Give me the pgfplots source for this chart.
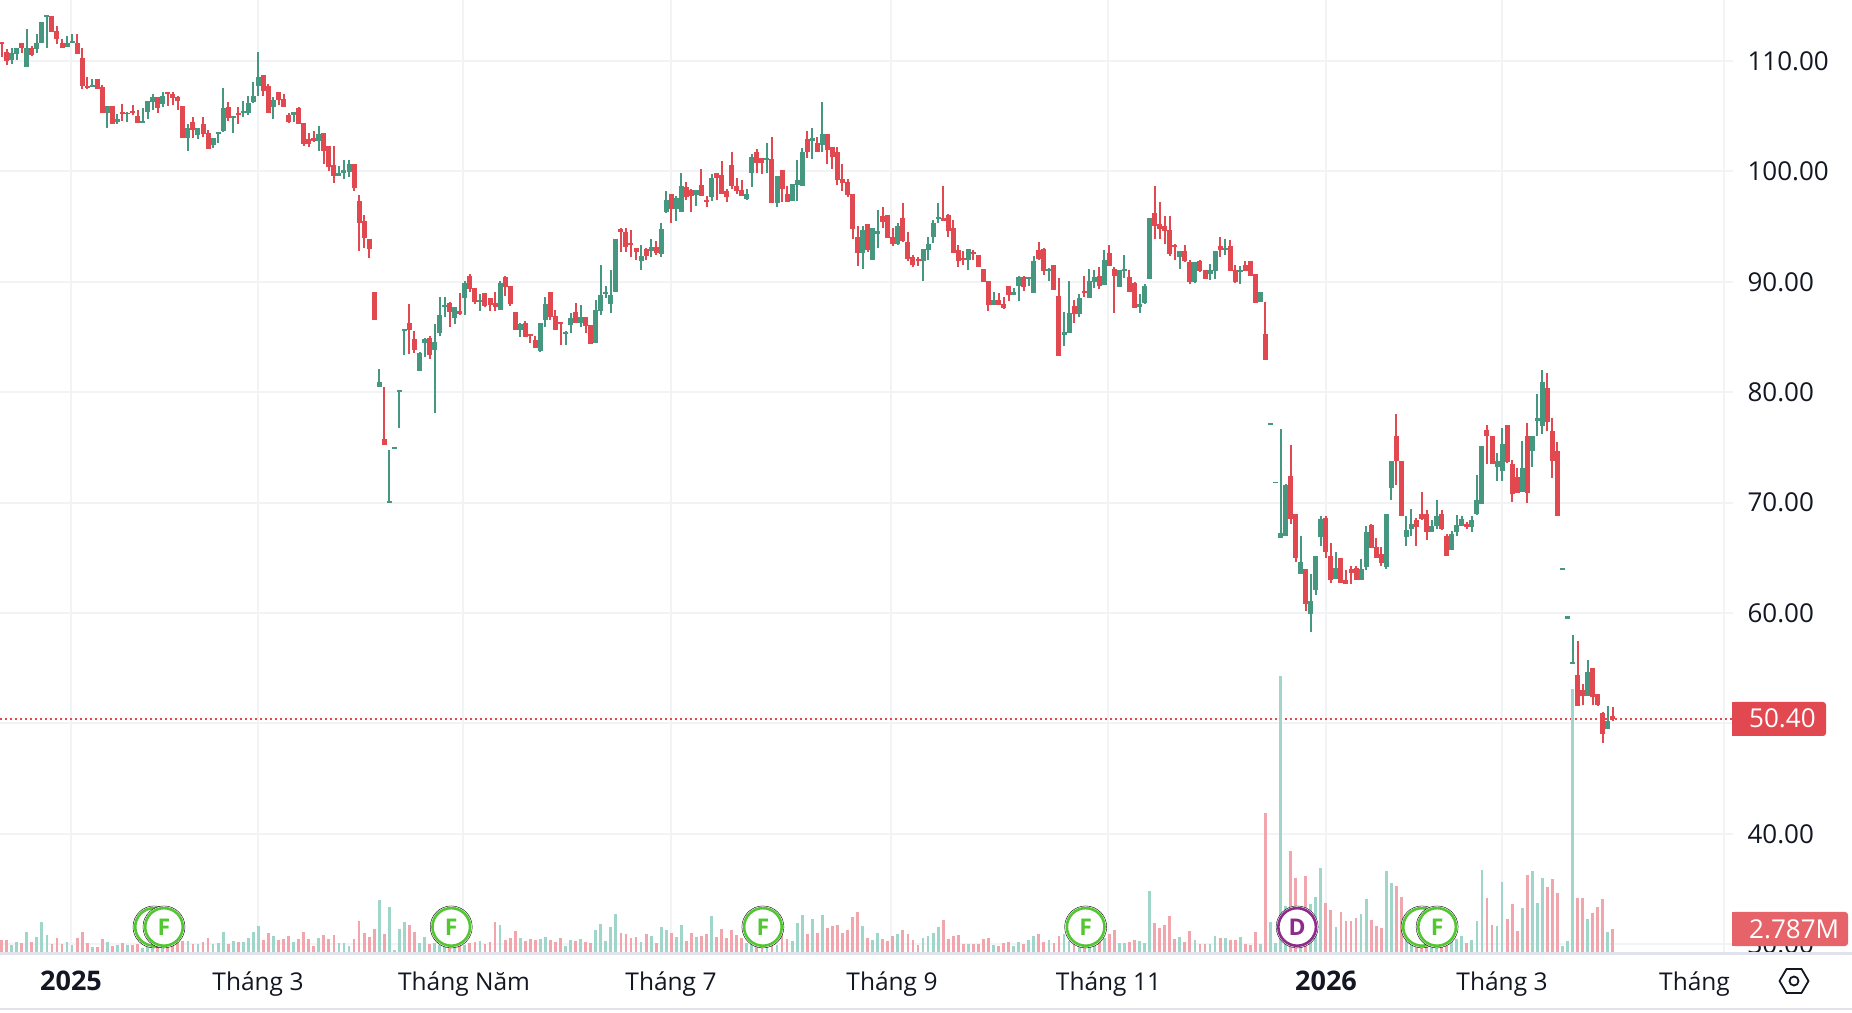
\documentclass[border=0pt]{standalone}
\usepackage{fontspec}
\setmainfont{Open Sans}
\usepackage{pgfplots}
\usepackage{pgfplotstable}
\pgfplotsset{compat=1.18}
\definecolor{upc}{HTML}{45977F}
\definecolor{dnc}{HTML}{E1484F}
\definecolor{upv}{HTML}{A0D5CA}
\definecolor{dnv}{HTML}{F0A6AC}
\definecolor{gridc}{HTML}{F2F3F5}
\definecolor{sepc}{HTML}{E0E3EB}
\definecolor{txt}{HTML}{131722}
\definecolor{fgreen}{HTML}{52C732}
\definecolor{dpurple}{HTML}{8E2A8B}
\pgfplotstableread{
i o h l c v
0 111.7 111.7 110.4 111.5 1.44
1 110.8 111.05 109.6 110.0 1.44
2 110.1 111.15 109.7 110.7 0.84
3 110.6 111.15 110.1 111.15 1.2
4 111.6 111.6 110.7 111.2 1.08
5 109.5 112.9 109.5 111.2 2.4
6 111.15 111.4 110.45 110.55 1.2
7 111.1 112.45 110.75 111.6 1.8
8 111.65 113.5 111.6 113.5 3.6
9 114.0 114.2 111.2 114.15 2.04
10 114.05 114.05 112.6 112.65 0.96
11 112.7 113.15 111.5 112.0 1.68
12 111.6 112.0 111.2 111.2 0.96
13 111.3 112.3 111.25 111.65 1.2
14 111.65 112.45 111.6 111.8 0.84
15 111.6 112.45 110.6 110.6 1.68
16 110.25 111.2 107.45 107.7 2.4
17 107.7 108.55 107.45 107.6 1.08
18 107.65 108.4 107.65 107.8 0.6
19 108.35 108.35 107.5 107.5 0.6
20 107.65 107.8 105.3 105.3 1.56
21 105.3 105.9 103.95 105.9 1.2
22 105.9 105.9 104.3 104.3 0.72
23 104.45 105.2 104.3 104.75 0.84
24 105.4 106.1 104.55 105.2 1.08
25 105.2 105.4 104.45 105.3 0.84
26 105.45 106.0 105.15 105.3 0.84
27 105.0 105.55 104.4 104.4 0.96
28 104.4 105.75 104.4 104.55 0.48
29 105.4 106.4 104.75 106.4 1.0
30 106.3 107.0 105.55 106.75 1.0
31 106.75 106.75 105.3 105.75 1.2
32 106.1 107.2 105.85 106.8 1.0
33 107.2 107.2 105.95 107.0 1.0
34 107.0 107.2 106.0 106.65 1.1
35 106.75 106.8 105.55 106.4 1.3
36 105.9 105.9 103.0 103.0 1.32
37 103.0 104.3 101.85 103.95 1.32
38 104.5 104.9 103.0 103.75 0.96
39 103.3 103.95 102.95 103.95 0.96
40 104.3 104.9 103.1 103.4 1.2
41 103.5 103.75 102.0 102.0 1.68
42 102.4 103.0 102.1 103.0 0.96
43 103.4 103.55 102.55 103.55 1.08
44 103.65 107.55 103.55 105.75 2.4
45 105.85 106.3 104.55 104.85 0.96
46 104.85 105.0 103.5 105.0 1.32
47 105.3 105.85 104.3 105.1 1.2
48 105.3 106.4 104.9 105.45 1.2
49 105.3 106.8 105.1 106.2 1.68
50 106.3 108.1 106.2 106.8 2.4
51 107.7 110.8 106.8 108.55 3.12
52 108.7 108.7 106.8 107.3 1.44
53 107.7 107.9 105.3 105.3 2.28
54 105.85 106.75 104.75 106.45 1.92
55 107.2 107.2 106.0 106.45 1.44
56 106.55 107.0 105.85 105.85 1.56
57 105.1 105.3 104.4 104.5 1.92
58 105.1 105.4 104.5 105.4 1.2
59 105.75 105.85 104.3 104.3 1.56
60 104.4 104.4 102.3 102.5 2.4
61 102.95 103.5 102.2 102.5 1.56
62 103.0 103.65 102.65 102.75 0.72
63 102.75 104.1 101.85 103.4 1.68
64 103.5 103.5 100.7 101.85 2.04
65 102.3 102.3 100.0 100.4 1.56
66 100.6 102.3 98.95 99.6 2.04
67 99.6 100.5 99.6 99.85 1.08
68 99.85 101.0 99.3 100.1 1.08
69 99.95 101.0 99.5 100.65 0.72
70 100.65 100.65 98.25 98.5 1.56
71 97.3 97.9 92.8 95.35 3.72
72 95.5 96.05 93.1 93.95 2.28
73 93.9 93.9 92.15 92.95 1.8
74 89.1 89.1 86.55 86.55 2.76
75 80.5 82.1 80.5 80.95 6.24
76 75.8 80.5 75.25 75.25 2.16
77 70.0 74.8 70.0 70.15 5.4
78 74.9 75.05 74.9 75.05 0.24
79 80.05 80.2 76.8 80.2 2.76
80 85.55 85.75 83.4 85.75 3.6
81 86.3 88.0 83.5 85.65 3.24
82 84.85 85.55 83.55 83.85 2.4
83 81.95 83.65 81.95 83.55 1.08
84 84.45 84.9 83.2 84.85 1.8
85 84.9 85.1 83.05 83.4 0.96
86 83.85 86.2 78.15 84.55 1.08
87 85.4 88.6 85.1 87.0 0.9
88 87.7 88.6 86.8 87.9 1.0
89 88.1 88.2 85.9 87.3 1.1
90 86.7 87.7 86.2 87.7 1.1
91 87.35 89.0 87.0 87.1 1.1
92 88.55 90.1 87.0 89.9 0.84
93 90.55 90.7 89.1 89.35 1.08
94 89.45 89.45 88.0 88.2 1.2
95 88.2 88.9 87.35 88.35 1.32
96 89.0 89.0 87.7 87.8 0.96
97 88.55 88.55 87.35 87.9 1.2
98 88.1 89.1 87.35 87.7 3.6
99 87.45 90.1 87.45 89.9 3.24
100 90.45 90.55 88.7 89.55 1.44
101 89.65 89.65 87.8 88.0 1.68
102 87.3 87.3 85.65 85.65 2.52
103 85.65 86.3 85.0 86.2 1.68
104 86.3 86.45 85.0 85.0 1.32
105 85.3 85.3 84.45 85.1 1.56
106 84.75 85.1 84.0 84.0 1.44
107 83.75 86.3 83.65 86.3 1.56
108 86.55 88.6 85.9 88.0 1.8
109 89.1 89.1 86.55 86.8 1.44
110 86.9 87.45 85.65 85.65 1.2
111 86.4 86.4 84.3 86.2 1.68
112 85.3 85.55 84.3 85.45 0.72
113 86.1 87.2 85.4 86.7 1.44
114 87.3 88.1 86.3 86.3 1.32
115 86.3 87.9 85.9 86.8 1.56
116 86.8 86.8 85.4 86.0 1.2
117 86.1 86.1 84.4 84.4 1.08
118 84.45 88.35 84.45 87.45 2.64
119 87.35 91.55 87.0 88.8 3.36
120 88.9 89.65 88.55 89.1 1.32
121 88.0 91.1 87.2 88.8 3.0
122 89.1 93.9 89.1 93.9 4.56
123 94.75 94.85 92.7 94.5 2.28
124 94.5 94.85 92.7 93.2 2.16
125 93.5 94.65 92.25 93.3 1.68
126 93.1 93.1 91.95 92.7 1.8
127 91.85 93.3 91.05 92.3 1.2
128 92.95 93.05 91.95 92.3 2.16
129 92.8 93.85 92.25 93.15 1.92
130 93.2 93.7 92.4 92.6 1.08
131 92.5 95.3 92.25 94.75 3.0
132 96.3 98.2 96.2 97.4 2.64
133 97.95 97.95 95.3 96.6 2.28
134 96.6 97.75 95.5 97.55 1.8
135 96.3 99.85 96.3 98.65 3.24
136 98.55 99.0 97.4 97.65 1.32
137 98.3 98.45 96.3 97.75 2.28
138 97.85 98.3 96.85 98.3 1.8
139 98.75 100.2 97.75 97.75 1.92
140 97.4 97.75 96.75 97.2 2.16
141 97.65 99.75 97.3 99.4 4.32
142 99.85 99.85 97.4 99.45 1.8
143 99.65 100.9 98.0 98.0 2.76
144 98.2 98.45 97.2 97.65 1.68
145 100.55 101.75 98.45 98.65 2.64
146 98.65 99.45 98.0 98.2 2.04
147 98.3 99.2 97.75 97.75 1.68
148 97.5 98.45 97.4 98.0 1.08
149 99.85 101.55 98.55 101.3 1.4
150 101.75 102.0 99.9 100.75 1.2
151 101.2 101.2 99.75 100.75 1.2
152 101.0 102.55 99.9 101.2 1.2
153 101.1 103.1 97.1 97.1 1.2
154 97.1 99.55 96.75 99.55 0.9
155 100.1 100.1 97.2 98.45 2.4
156 98.0 98.65 97.2 97.2 1.56
157 97.3 98.85 97.3 98.85 1.32
158 98.75 101.0 97.3 99.2 3.48
159 98.65 102.1 98.65 101.8 4.44
160 102.9 103.7 101.2 101.75 2.16
161 102.8 103.9 101.1 103.0 3.96
162 102.55 103.1 101.75 101.75 2.28
163 102.35 106.25 101.8 103.35 4.44
164 103.35 103.35 100.65 101.9 2.88
165 102.2 102.2 100.2 101.35 3.12
166 101.75 102.2 98.75 99.2 3.24
167 99.3 100.65 98.2 98.95 2.28
168 99.0 99.3 97.65 97.85 2.64
169 97.95 98.0 93.85 94.75 4.2
170 94.1 95.1 91.4 92.6 4.8
171 92.6 95.1 91.15 94.65 3.12
172 95.2 95.2 92.7 92.85 1.68
173 91.95 94.85 91.95 94.85 1.44
174 94.35 96.5 93.05 94.6 2.28
175 95.95 96.75 94.85 95.4 1.56
176 96.05 96.05 93.95 93.95 1.32
177 94.1 94.85 93.2 93.4 1.92
178 93.4 95.3 93.3 95.1 2.16
179 95.75 97.1 93.6 93.7 2.64
180 93.6 94.5 91.85 92.05 2.16
181 92.25 92.4 91.3 91.5 1.44
182 92.05 92.25 91.4 91.85 0.84
183 91.85 92.95 90.05 92.95 1.68
184 92.85 94.05 91.95 93.4 1.92
185 94.05 95.6 93.5 95.3 2.28
186 95.65 97.1 95.3 95.85 3.0
187 95.75 98.65 95.5 95.5 3.84
188 96.05 96.1 94.05 94.6 1.56
189 94.85 95.6 92.6 92.6 1.92
190 92.85 93.3 91.3 91.85 2.04
191 92.15 92.75 91.5 91.95 0.96
192 91.95 92.95 91.05 92.95 0.96
193 92.7 92.85 91.95 92.5 0.96
194 92.4 92.4 91.3 91.3 0.96
195 91.15 91.2 89.95 89.95 1.56
196 90.05 90.05 87.35 87.9 1.68
197 87.9 89.05 87.9 88.35 0.84
198 88.35 88.95 87.9 87.9 0.72
199 87.95 88.6 87.55 87.6 1.08
200 89.6 89.6 88.25 88.8 1.2
201 88.8 89.4 88.8 89.05 0.72
202 89.6 90.5 88.25 90.4 1.2
203 90.4 90.5 89.15 89.5 0.96
204 90.25 90.4 89.6 90.4 1.44
205 88.95 92.3 88.95 91.85 1.92
206 92.85 93.6 91.95 92.05 2.16
207 92.95 93.05 90.6 90.95 1.2
208 90.95 91.25 90.05 91.15 1.44
209 91.5 91.5 89.25 89.25 1.08
210 88.7 90.35 83.3 83.3 1.92
211 85.15 87.25 84.2 85.45 2.16
212 85.35 90.05 85.35 87.15 1.3
213 87.8 88.35 86.25 87.1 1.2
214 87.1 88.9 86.8 88.5 1.2
215 89.15 90.5 88.6 88.95 1.2
216 88.5 91.15 88.5 90.05 1.2
217 89.95 91.05 89.4 90.4 1.0
218 90.5 91.3 89.35 89.6 1.2
219 89.7 92.85 89.7 91.95 1.68
220 92.6 93.3 91.4 91.4 2.16
221 91.15 91.3 87.15 90.5 2.64
222 89.5 91.05 89.5 91.05 1.08
223 90.95 92.4 90.35 91.15 1.08
224 90.4 91.05 89.05 89.05 1.2
225 89.85 89.95 87.6 87.6 1.44
226 87.7 88.9 87.15 87.95 1.32
227 88.05 89.8 87.95 89.6 1.08
228 90.25 95.75 90.25 95.75 7.32
229 96.2 98.65 93.85 95.1 3.48
230 95.2 97.2 93.85 94.75 2.88
231 95.05 96.0 93.4 94.6 3.24
232 94.65 96.0 92.3 92.5 4.32
233 93.3 93.4 91.95 93.15 1.56
234 92.25 92.75 91.15 92.75 1.8
235 92.75 93.3 91.8 91.85 1.2
236 91.8 91.95 89.8 89.95 2.52
237 89.95 91.8 89.9 91.8 1.44
238 91.85 91.95 90.85 90.95 0.96
239 91.05 91.05 90.25 90.25 0.96
240 90.7 91.6 90.15 91.05 0.96
241 90.95 92.75 90.25 92.75 1.92
242 93.25 94.1 92.25 92.9 1.68
243 92.9 93.9 92.45 93.1 1.68
244 93.25 93.8 91.0 91.0 1.44
245 91.1 91.5 89.9 90.0 1.44
246 90.9 91.4 89.8 91.1 1.8
247 91.5 91.9 91.0 91.0 0.96
248 91.9 91.9 90.5 90.5 0.84
249 90.7 90.7 88.1 88.1 2.4
250 88.2 89.1 88.2 89.1 0.96
251 85.3 88.2 82.9 82.9 16.68
252 77.09 77.24 77.09 77.24 3.6
253 71.75 71.9 71.75 71.9 1.08
254 66.75 76.7 66.75 67.25 33.12
255 67.0 71.7 67.0 71.55 5.52
256 72.45 75.25 68.1 68.55 12.12
257 69.0 69.0 64.6 64.95 8.88
258 63.5 67.0 63.5 64.65 4.8
259 64.0 64.0 60.15 60.85 9.12
260 59.95 63.55 58.25 61.05 5.76
261 62.1 65.2 61.65 65.2 6.6
262 66.9 68.8 66.1 68.55 10.08
263 68.65 68.75 65.0 65.5 5.88
264 65.2 66.3 62.75 62.95 5.04
265 63.1 65.55 63.1 64.1 3.0
266 65.0 65.0 62.75 62.75 4.8
267 62.95 63.85 62.65 62.65 3.72
268 63.95 64.3 62.65 63.65 3.72
269 64.05 64.3 62.95 63.0 4.08
270 63.0 64.85 62.95 63.95 4.56
271 64.2 67.9 63.85 67.35 6.36
272 68.0 68.1 65.9 65.9 3.84
273 66.0 66.8 65.0 65.0 3.12
274 65.3 66.0 64.3 64.5 2.88
275 64.2 69.0 64.0 69.0 9.72
276 71.35 73.8 70.25 73.8 8.28
277 76.05 78.0 71.55 73.8 7.92
278 73.8 73.8 68.75 68.75 6.6
279 66.9 68.8 66.1 67.55 3.7
280 67.65 69.45 67.0 68.1 2.4
281 68.45 68.65 66.1 67.75 2.4
282 69.0 71.0 68.45 68.55 2.4
283 69.0 69.3 66.65 67.3 2.4
284 67.3 68.45 67.3 67.9 2.0
285 67.9 70.25 67.65 68.75 2.0
286 69.0 69.35 67.55 67.65 2.0
287 67.0 67.2 65.2 65.2 1.5
288 65.75 67.45 65.75 67.2 1.32
289 67.3 68.9 67.0 68.0 1.52
290 67.9 68.75 67.9 68.55 1.92
291 68.1 68.2 67.65 67.75 1.08
292 67.8 68.8 67.35 68.45 1.44
293 69.0 72.5 68.9 70.25 3.72
294 69.9 75.15 69.9 75.15 9.84
295 76.6 77.0 73.5 76.0 6.48
296 76.05 76.05 73.5 73.5 3.24
297 73.25 74.5 72.0 73.8 3.12
298 72.9 76.8 72.0 75.35 8.4
299 77.0 77.0 73.6 73.7 3.96
300 73.5 73.9 70.1 70.8 5.76
301 72.35 73.15 70.9 70.9 2.52
302 71.0 75.6 71.0 73.15 5.28
303 76.05 77.25 70.0 70.9 9.24
304 74.7 76.0 73.25 76.0 9.72
305 77.35 79.8 76.05 77.7 5.88
306 76.95 82.05 76.25 80.95 8.88
307 80.4 81.75 76.5 77.3 7.8
308 76.5 77.7 72.25 73.8 8.76
309 74.7 75.5 68.75 68.75 7.08
310 63.95 64.1 63.95 64.1 0.72
311 59.5 59.7 59.5 59.7 1.32
312 55.4 58.05 55.4 55.6 31.56
313 54.35 57.5 51.6 51.6 6.48
314 53.05 53.55 51.7 52.45 6.48
315 52.45 55.7 52.45 54.7 3.96
316 55.05 55.05 51.7 52.35 4.68
317 52.7 52.7 51.6 51.7 5.4
318 50.9 51.0 48.25 49.0 6.36
319 49.45 51.55 49.45 50.25 2.4
320 50.65 51.45 50.25 50.4 2.787
}\ohlc
\pgfplotsset{
 base/.style={
  at={(0pt,60pt)}, anchor=south west, scale only axis,
  width=1733pt, height=952pt,
  xmin=-0.318, xmax=343.87, clip=true},
 wick/.style={draw=none, mark=none, forget plot,
  error bars/y dir=both, error bars/y explicit, error bars/error mark=none,
  error bars/error bar style={line width=2pt, color=#1}},
 body/.style={draw=none, mark=none, forget plot,
  error bars/y dir=both, error bars/y explicit, error bars/error mark=none,
  error bars/error bar style={line width=5pt, color=#1}}
}
\begin{document}
\begin{tikzpicture}
\path[use as bounding box] (0pt,0pt) rectangle (1852pt,1012pt);
% price axis: grid, labels, last price line
\begin{axis}[base, ymin=29.29, ymax=115.53,
  axis line style={draw=none}, major tick length=0pt,
  xmajorgrids, ymajorgrids, grid style={line width=2pt, color=gridc},
  xtick={13.82,50.9,91.7,132.9,176.7,219.8,263,297.9,342.1},
  xticklabel={},
  ytick={30,40,60,70,80,90,100,110},
  yticklabel pos=right,
  yticklabel style={anchor=west, xshift=11pt, font=\fontsize{26}{30}\selectfont, text=txt,
    /pgf/number format/fixed, /pgf/number format/fixed zerofill, /pgf/number format/precision=2,
    /pgf/number format/assume math mode=true},
  scaled y ticks=false]
\addplot[color=gridc, line width=2pt] coordinates {(-0.318,50) (343.87,50)};
\addplot[color=dnc, line width=1.8pt, dash pattern=on 2pt off 3pt] coordinates {(-0.318,50.4) (343.87,50.4)};
\end{axis}
% volume axis
\begin{axis}[base, hide axis, ymin=0, ymax=114.3]
\addplot[ycomb, mark=none, line width=2.8pt, color=upv] table[x=i, y expr={\thisrow{c}>=\thisrow{o} ? \thisrow{v} : nan}] {\ohlc};
\addplot[ycomb, mark=none, line width=2.8pt, color=dnv] table[x=i, y expr={\thisrow{c}<\thisrow{o} ? \thisrow{v} : nan}] {\ohlc};
\end{axis}
% candles and events
\begin{axis}[base, hide axis, ymin=29.29, ymax=115.53]
\addplot[wick=upc] table[x=i, y expr={\thisrow{c}>=\thisrow{o} ? (\thisrow{h}+\thisrow{l})/2 : nan}, y error expr={(\thisrow{h}-\thisrow{l})/2}] {\ohlc};
\addplot[body=upc] table[x=i, y expr={\thisrow{c}>=\thisrow{o} ? (\thisrow{o}+\thisrow{c})/2 : nan}, y error expr={max(abs(\thisrow{c}-\thisrow{o})/2,0.07)}] {\ohlc};
\addplot[wick=dnc] table[x=i, y expr={\thisrow{c}<\thisrow{o} ? (\thisrow{h}+\thisrow{l})/2 : nan}, y error expr={(\thisrow{h}-\thisrow{l})/2}] {\ohlc};
\addplot[body=dnc] table[x=i, y expr={\thisrow{c}<\thisrow{o} ? (\thisrow{o}+\thisrow{c})/2 : nan}, y error expr={max(abs(\thisrow{c}-\thisrow{o})/2,0.07)}] {\ohlc};
% earnings / dividend events
\addplot[only marks, mark=*, mark size=21pt, mark options={draw=none, fill=white}] coordinates {(30.27,31.56)};
\addplot[only marks, color=fgreen, mark=*, mark size=18.8pt, mark options={draw=fgreen, fill=white, line width=2.6pt}] coordinates {(30.27,31.56)};
\addplot[only marks, mark=*, mark size=21pt, mark options={draw=none, fill=white}] coordinates {(282.1,31.56)};
\addplot[only marks, color=fgreen, mark=*, mark size=18.8pt, mark options={draw=fgreen, fill=white, line width=2.6pt}] coordinates {(282.1,31.56)};
\addplot[only marks, mark=*, mark size=21pt, mark options={draw=none, fill=white}] coordinates {(32.25,31.56) (89.3,31.56) (151.2,31.56) (215.3,31.56) (257.3,31.56) (285.1,31.56)};
\addplot[only marks, color=fgreen, mark=*, mark size=18.8pt, mark options={draw=fgreen, fill=white, line width=2.6pt},
  nodes near coords={\textbf{F}},
  every node near coord/.append style={anchor=center, inner sep=0pt, font=\fontsize{23}{26}\selectfont, text=fgreen}]
  coordinates {(32.25,31.56) (89.3,31.56) (151.2,31.56) (215.3,31.56) (285.1,31.56)};
\addplot[only marks, color=dpurple, mark=*, mark size=18.8pt, mark options={draw=dpurple, fill=white, line width=2.6pt},
  nodes near coords={\textbf{D}},
  every node near coord/.append style={anchor=center, inner sep=0pt, font=\fontsize{23}{26}\selectfont, text=dpurple}]
  coordinates {(257.3,31.56)};
\end{axis}
% time scale
\fill[white] (0pt,0pt) rectangle (1852pt,58.5pt);
\fill[sepc] (0pt,57pt) rectangle (1852pt,60pt);
\fill[sepc] (0pt,2pt) rectangle (1852pt,4pt);
\begin{scope}[font=\fontsize{24.5}{28}\selectfont, text=txt]
\node[anchor=base, font=\fontsize{27}{28}\selectfont\bfseries] at (71pt,21.5pt) {2025};
\node[anchor=base] at (258pt,21.5pt) {Tháng 3};
\node[anchor=base] at (464pt,21.5pt) {Tháng Năm};
\node[anchor=base] at (671pt,21.5pt) {Tháng 7};
\node[anchor=base] at (892pt,21.5pt) {Tháng 9};
\node[anchor=base] at (1108.5pt,21.5pt) {Tháng 11};
\node[anchor=base, font=\fontsize{27}{28}\selectfont\bfseries] at (1326pt,21.5pt) {2026};
\node[anchor=base] at (1502pt,21.5pt) {Tháng 3};
\node[anchor=base west, inner sep=0pt] at (1659pt,21.5pt) {Tháng};
\end{scope}
\draw[txt, line width=1.8pt, line join=round] (1779.5pt,31pt) -- (1786.5pt,43pt) -- (1801.5pt,43pt) -- (1808.5pt,31pt) -- (1801.5pt,19pt) -- (1786.5pt,19pt) -- cycle;
\draw[txt, line width=1.8pt] (1794pt,31pt) circle (4.5pt);
% price tags
\path[fill=dnc, rounded corners=3pt] (1732pt,276pt) -- (1826pt,276pt) -- (1826pt,310pt) -- (1732pt,310pt) -- cycle;
\fill[dnc] (1732pt,276pt) rectangle (1740pt,310pt);
\node[text=white, anchor=base west, inner sep=0pt, font=\fontsize{26}{30}\selectfont] at (1749pt,284pt) {50.40};
\path[fill=dnc!85!white, rounded corners=3pt] (1732pt,66pt) -- (1848pt,66pt) -- (1848pt,100pt) -- (1732pt,100pt) -- cycle;
\fill[dnc!85!white] (1732pt,66pt) rectangle (1740pt,100pt);
\node[text=white, anchor=base west, inner sep=0pt, font=\fontsize{26}{30}\selectfont] at (1749pt,74pt) {2.787M};
\end{tikzpicture}
\end{document}
